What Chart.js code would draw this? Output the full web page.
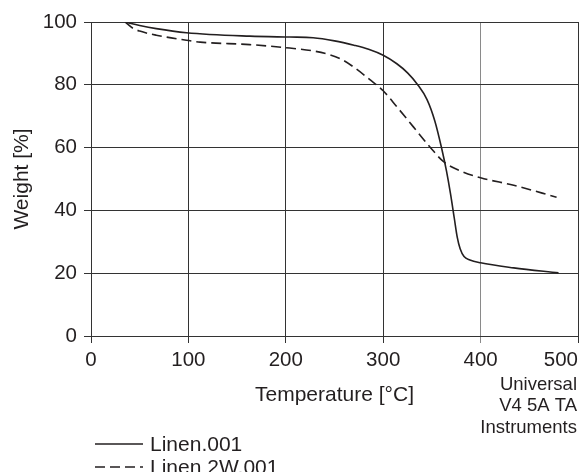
<!DOCTYPE html>
<html lang="en">
<head>
<meta charset="UTF-8">
<title>TGA Linen</title>
<script src="https://cdn.jsdelivr.net/npm/chart.js"></script>
<style>
    body { margin: 0; background: #fff; }
    #wrap { width: 580px; height: 472px; position: relative; }
</style>
</head>
<body>
<div id="wrap"><canvas id="grafico"></canvas></div>
<script>
// Linen.001 (solid)
const linenTemp = [35, 50, 67, 98, 163, 204, 228, 250, 270, 285, 300, 314, 325, 335, 345, 353, 360, 365, 369, 373, 376, 379, 383, 389, 400, 434, 480];
const linenWeight = [100, 98.9, 97.9, 96.6, 95.5, 95.2, 95.0, 94.0, 92.6, 91.3, 89.4, 86.7, 83.8, 80.2, 75.3, 68.5, 59.8, 52.5, 45.5, 37.5, 31.5, 27.8, 25.3, 24.2, 23.3, 21.7, 20.1];
// Linen 2W.001 (dashed)
const linen2wTemp = [35, 43, 50, 67, 98, 112, 163, 204, 228, 245, 258, 273, 286, 300, 314, 331, 348, 362, 379, 400, 434, 478];
const linen2wWeight = [100, 98.0, 97.1, 95.8, 94.2, 93.6, 92.8, 91.7, 90.8, 89.6, 88.0, 84.9, 81.7, 78.1, 73.0, 66.6, 60.2, 55.5, 52.6, 50.4, 48.0, 44.2];

const seriesLabels = ['Linen.001', 'Linen 2W.001'];
const xTicks = [0, 100, 200, 300, 400, 500];
const noteLines = ['Universal', 'V4 5A TA', 'Instruments'];

const FONT = '"Liberation Sans", Arial, sans-serif';
const INK = '#231f20';
const GRID = '#333';

function puntos(xs, ys) {
    return xs.map((x, i) => ({ x: x, y: ys[i] }));
}

// x labels, legend and instrument note
const extras = {
    id: 'extras',
    afterDraw(chart) {
        const ctx = chart.ctx;
        const xs = chart.scales.x;
        ctx.save();
        ctx.fillStyle = INK;
        ctx.font = '20.5px ' + FONT;
        ctx.textBaseline = 'alphabetic';
        xTicks.forEach((v, i) => {
            const px = xs.getPixelForValue(v);
            // last label is pushed inside the canvas
            ctx.textAlign = i === xTicks.length - 1 ? 'right' : 'center';
            ctx.fillText(String(v), px, 366);
        });

        // legend
        const rows = [444, 467];
        chart.data.datasets.forEach((ds, i) => {
            ctx.strokeStyle = ds.borderColor;
            ctx.lineWidth = 1.5;
            ctx.setLineDash(ds.borderDash || []);
            ctx.beginPath();
            ctx.moveTo(95, rows[i]);
            ctx.lineTo(143, rows[i]);
            ctx.stroke();
            ctx.setLineDash([]);
            ctx.font = '21px ' + FONT;
            ctx.textAlign = 'left';
            ctx.fillText(ds.label, 150, rows[i] + 6.5);
        });

        // note
        ctx.font = '18.5px ' + FONT;
        ctx.textAlign = 'right';
        const base = [389.5, 411, 432.5];
        noteLines.forEach((t, i) => ctx.fillText(t, 577, base[i]));
        ctx.restore();
    }
};

new Chart(document.getElementById('grafico'), {
    type: 'line',
    data: {
        datasets: [{
            label: seriesLabels[0],
            data: puntos(linenTemp, linenWeight),
            borderColor: INK,
            borderWidth: 1.6,
            pointRadius: 0,
            cubicInterpolationMode: 'monotone',
            fill: false
        }, {
            label: seriesLabels[1],
            data: puntos(linen2wTemp, linen2wWeight),
            borderColor: INK,
            borderWidth: 1.6,
            borderDash: [10, 5],
            pointRadius: 0,
            cubicInterpolationMode: 'monotone',
            fill: false
        }]
    },
    options: {
        responsive: true,
        maintainAspectRatio: false,
        animation: false,
        layout: { padding: { top: 22, right: 2, left: 0, bottom: 0 } },
        plugins: {
            legend: { display: false },
            tooltip: { enabled: false }
        },
        scales: {
            x: {
                type: 'linear',
                min: 0,
                max: 500,
                ticks: { stepSize: 100, display: false },
                grid: {
                    color: ctx => (ctx.tick && ctx.tick.value === 400) ? '#8a8a8a' : GRID,
                    lineWidth: 1,
                    tickLength: 7
                },
                border: { color: GRID, width: 1 },
                title: {
                    display: true,
                    text: 'Temperature [°C]',
                    color: INK,
                    font: { family: FONT, size: 21 },
                    padding: { top: 0, bottom: 64 }
                },
                afterFit: s => { s.height = 136; }
            },
            y: {
                min: 0,
                max: 100,
                ticks: {
                    stepSize: 20,
                    padding: 7,
                    color: INK,
                    font: { family: FONT, size: 20.5 }
                },
                grid: { color: GRID, lineWidth: 1, tickLength: 7 },
                border: { color: GRID, width: 1 },
                title: {
                    display: true,
                    text: 'Weight [%]',
                    color: INK,
                    font: { family: FONT, size: 21 },
                    padding: { top: 10, bottom: 0 }
                },
                afterFit: s => { s.width = 91; }
            }
        }
    },
    plugins: [extras]
});
</script>
</body>
</html>
